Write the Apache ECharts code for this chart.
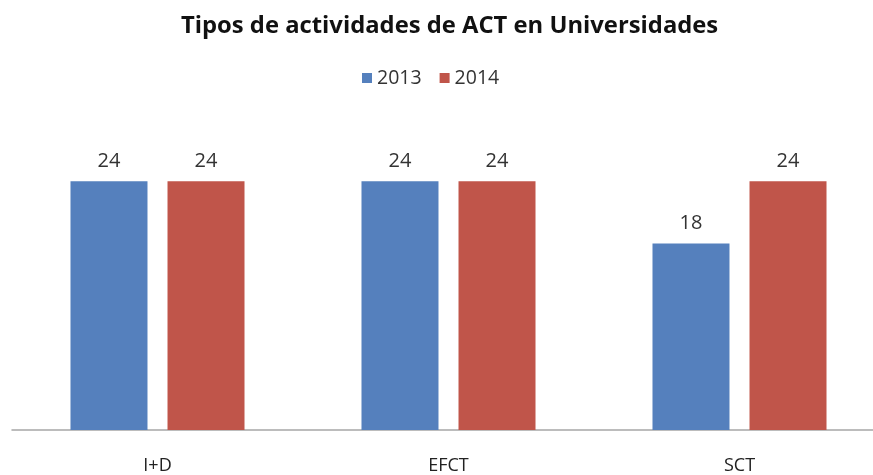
<!DOCTYPE html>
<html><head><meta charset="utf-8">
<script src="https://cdn.jsdelivr.net/npm/echarts@6/dist/echarts.min.js"></script>
<style>html,body{margin:0;padding:0;background:#fff}#c{width:873px;height:475px}</style>
</head><body><div id="c"></div>
<script>
const categories = ['I+D', 'EFCT', 'SCT'];
const seriesNames = ['2013', '2014'];
const values2013 = [24, 24, 18];
const values2014 = [24, 24, 24];

const chart = echarts.init(document.getElementById('c'));
const labelStyle = {show: true, position: 'top', distance: 10, fontSize: 20, color: '#333', fontFamily: 'Open Sans'};
chart.setOption({
  animation: false,
  title: {text: 'Tipos de actividades de ACT en Universidades', left: 176, top: 9,
    textStyle: {fontSize: 23.8, fontWeight: 'bold', color: '#111', fontFamily: 'Open Sans'}},
  legend: {top: 63, left: 357, itemWidth: 10, itemHeight: 10, itemGap: 18,
    icon: 'rect', textStyle: {fontSize: 19.5, color: '#333', fontFamily: 'Open Sans'}, data: seriesNames},
  grid: {left: 12, width: 873, top: 119, bottom: 45, outerBoundsMode: 'none', containLabel: false},
  xAxis: {type: 'category', data: categories,
    axisLine: {lineStyle: {color: '#a6a6a6', width: 1.5}}, axisTick: {show: false},
    axisLabel: {margin: 27, fontSize: 18, color: '#222', fontFamily: 'Open Sans'}},
  yAxis: {type: 'value', min: 0, max: 30, show: false, splitLine: {show: false}},
  series: [
    {name: seriesNames[0], type: 'bar', data: values2013, barWidth: 77, barGap: '26%',
      itemStyle: {color: '#5580BD'}, label: labelStyle},
    {name: seriesNames[1], type: 'bar', data: values2014, barWidth: 77,
      itemStyle: {color: '#C0554A'}, label: labelStyle}
  ]
});
</script></body></html>
